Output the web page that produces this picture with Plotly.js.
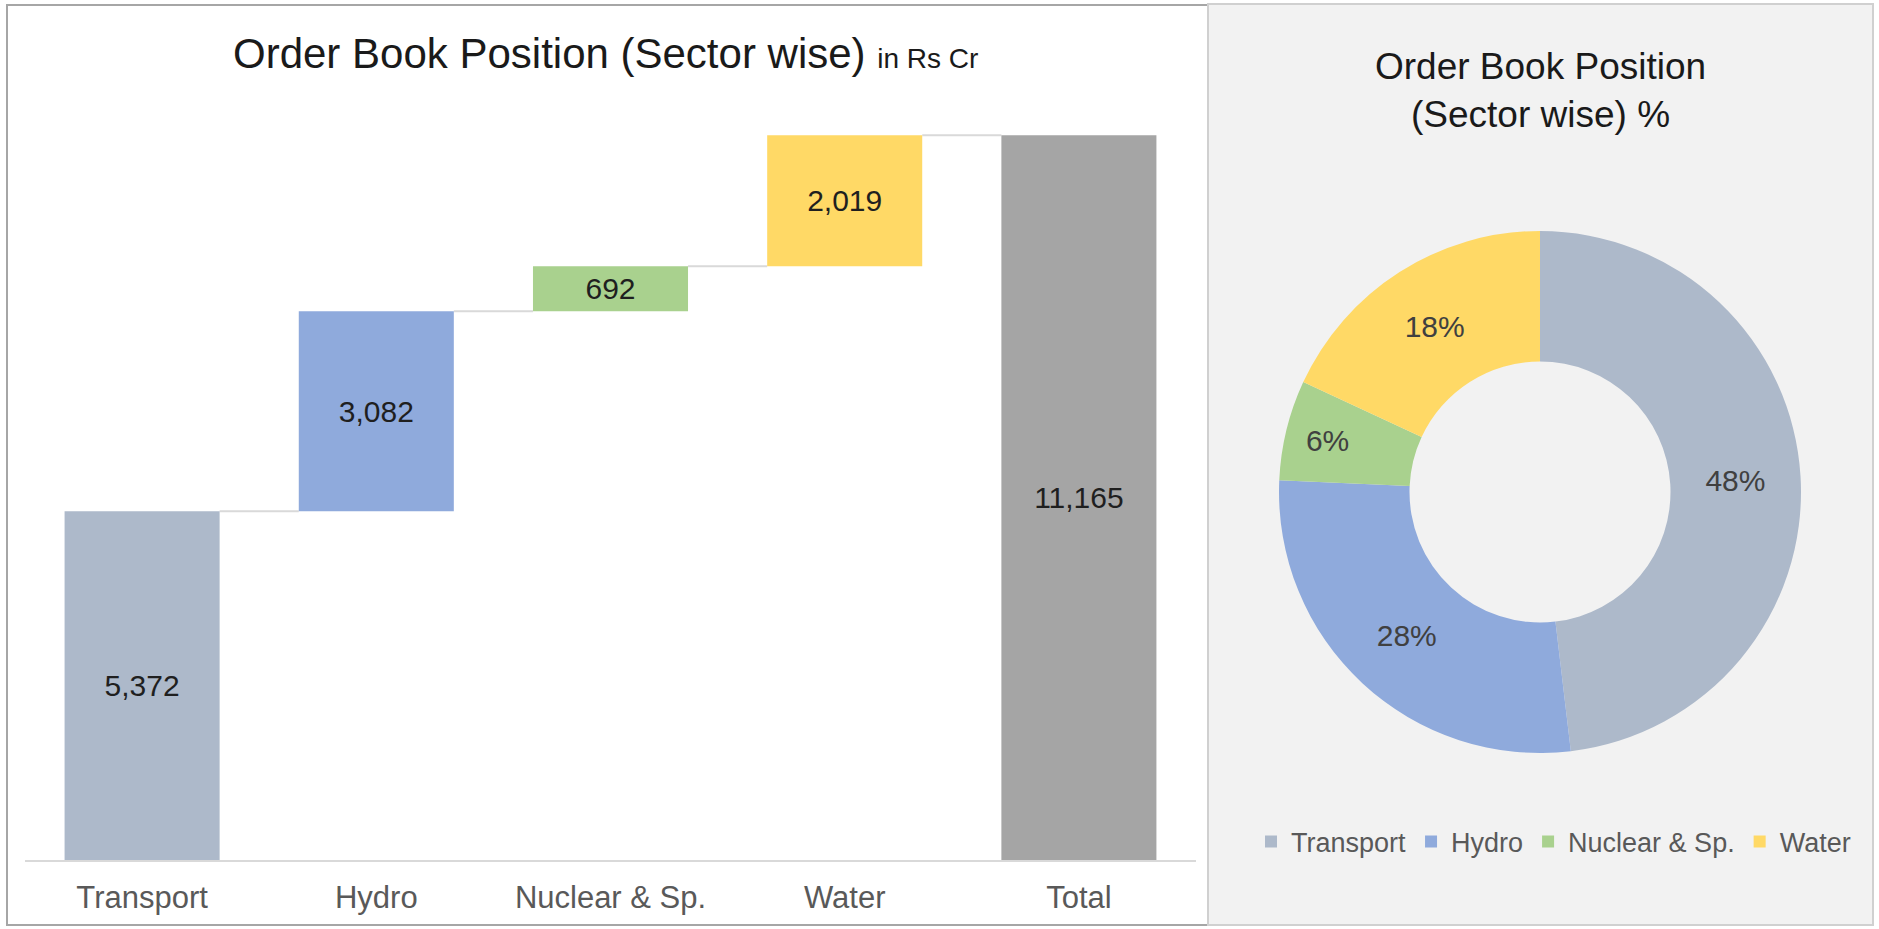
<!DOCTYPE html>
<html>
<head>
<meta charset="utf-8">
<script src="https://cdn.plot.ly/plotly-3.0.1.min.js"></script>
<style>html,body{margin:0;padding:0;background:#fff;}#chart{width:1879px;height:929px;}</style>
</head>
<body>
<div id="chart"></div>
<script>
// Data
var categories = ["Transport", "Hydro", "Nuclear & Sp.", "Water", "Total"];
var sectorValues = [5372, 3082, 692, 2019];
var totalValue = 11165;
var measures = ["relative", "relative", "relative", "relative", "total"];
var barColors = ["#adb9ca", "#8faadc", "#a9d18e", "#ffd966", "#a5a5a5"];
var pieLabels = ["Transport", "Hydro", "Nuclear & Sp.", "Water"];
var pieColors = ["#adb9ca", "#8faadc", "#a9d18e", "#ffd966"];

// derived: bar lengths and bases
var barValues = sectorValues.concat([totalValue]);
var bases = [];
var run = 0;
for (var i = 0; i < sectorValues.length; i++) { bases.push(run); run += sectorValues[i]; }
bases.push(0);
var barText = barValues.map(function(v){ return v.toLocaleString("en-US"); });

var W = 1879, H = 929;
function px(x){ return x / W; }
function py(y){ return 1 - y / H; }

var FONT = "Liberation Sans, Arial, sans-serif";

var traces = [
  {
    type: "bar",
    x: categories,
    y: barValues,
    base: bases,
    marker: { color: barColors, line: { width: 0 } },
    text: barText,
    textposition: "inside",
    insidetextanchor: "middle",
    textangle: 0,
    constraintext: "none",
    textfont: { family: FONT, size: 30, color: "#1f1f1f" },
    hoverinfo: "skip",
    showlegend: false,
    xaxis: "x", yaxis: "y"
  },
  {
    type: "waterfall",
    x: categories,
    y: sectorValues.concat([0]),
    measure: measures,
    increasing: { marker: { color: "rgba(0,0,0,0)", line: { width: 0 } } },
    decreasing: { marker: { color: "rgba(0,0,0,0)", line: { width: 0 } } },
    totals: { marker: { color: "rgba(0,0,0,0)", line: { width: 0 } } },
    connector: { mode: "between", line: { color: "#d9d9d9", width: 2 } },
    textinfo: "none",
    hoverinfo: "skip",
    showlegend: false,
    xaxis: "x", yaxis: "y"
  },
  {
    type: "pie",
    labels: pieLabels,
    values: sectorValues,
    hole: 0.5,
    sort: false,
    direction: "clockwise",
    rotation: 0,
    marker: { colors: pieColors, line: { width: 0 } },
    textinfo: "percent",
    texttemplate: "%{percent:.0%}",
    textposition: "inside",
    insidetextorientation: "horizontal",
    textfont: { family: FONT, size: 30, color: "#404040" },
    domain: { x: [px(1540 - 261), px(1540 + 261)], y: [py(492 + 261), py(492 - 261)] },
    hoverinfo: "skip",
    showlegend: true
  }
];

var layout = {
  width: W, height: H,
  margin: { l: 0, r: 0, t: 0, b: 0 },
  paper_bgcolor: "#ffffff",
  plot_bgcolor: "rgba(0,0,0,0)",
  font: { family: FONT, color: "#595959" },
  barmode: "overlay",
  bargap: 0.338,
  waterfallgap: 0.338,
  waterfallmode: "overlay",
  xaxis: {
    domain: [px(25), px(1196)],
    type: "category",
    showgrid: false, zeroline: false,
    showline: true, linecolor: "#d9d9d9", linewidth: 2,
    ticks: "", ticklabelstandoff: 9,
    tickfont: { family: FONT, size: 31, color: "#595959" },
    fixedrange: true
  },
  yaxis: {
    domain: [py(860), py(81)],
    range: [0, 12000],
    showgrid: false, zeroline: false, showline: false,
    showticklabels: false, ticks: "",
    fixedrange: true
  },
  showlegend: true,
  legend: {
    orientation: "h",
    x: px(1251), xanchor: "left",
    y: py(842), yanchor: "middle",
    bgcolor: "rgba(0,0,0,0)",
    font: { family: FONT, size: 27, color: "#595959" },
    itemclick: false, itemdoubleclick: false,
    traceorder: "normal"
  },
  shapes: [
    { type: "rect", xref: "paper", yref: "paper", layer: "below",
      x0: px(7), x1: px(1208), y0: py(925), y1: py(5),
      fillcolor: "#ffffff", line: { color: "#a6a6a6", width: 2 } },
    { type: "rect", xref: "paper", yref: "paper", layer: "below",
      x0: px(1208), x1: px(1873), y0: py(925), y1: py(4),
      fillcolor: "#f2f2f2", line: { color: "#d0d0d0", width: 2 } }
  ],
  annotations: [
    { xref: "paper", yref: "paper", x: px(231), y: py(54), xanchor: "left", yanchor: "middle",
      showarrow: false,
      text: "Order Book Position (Sector wise) <span style=\"font-size:28px\">in Rs Cr</span>",
      font: { family: FONT, size: 42, color: "#1a1a1a" } },
    { xref: "paper", yref: "paper", x: px(1540), y: py(91), xanchor: "center", yanchor: "middle",
      showarrow: false, align: "center",
      text: "Order Book Position<br>(Sector wise) %",
      font: { family: FONT, size: 37, color: "#1a1a1a" } }
  ]
};

Plotly.newPlot("chart", traces, layout, { displayModeBar: false, staticPlot: true });
</script>
</body>
</html>
